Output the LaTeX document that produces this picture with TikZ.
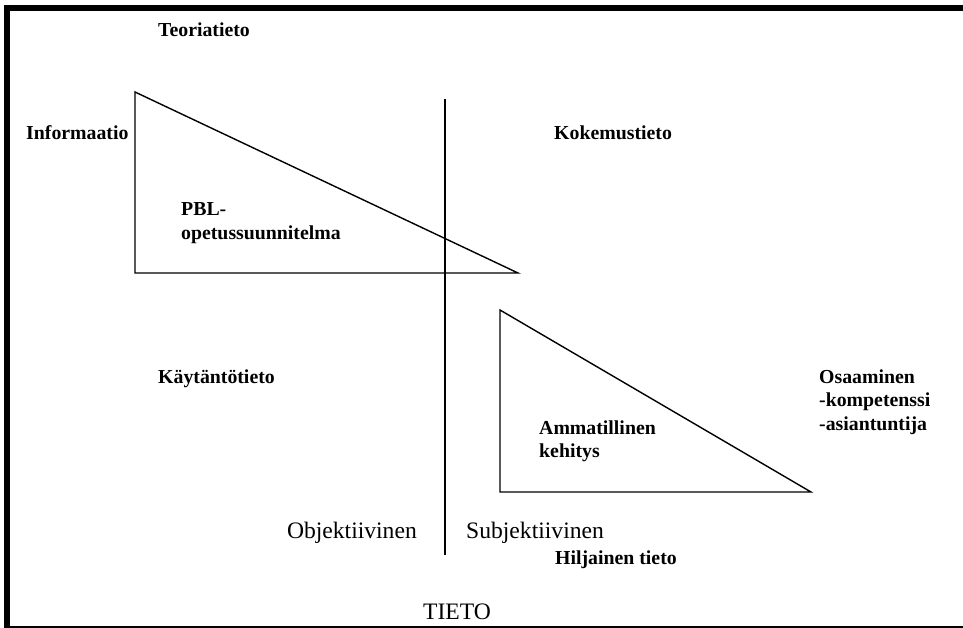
\documentclass[tikz,border=0pt]{standalone}
\usepackage{fontspec}
\setmainfont{Liberation Serif}
\newcommand{\blab}{\fontsize{19.8}{23.5}\selectfont\bfseries}
\newcommand{\rlab}{\fontsize{23.6}{28}\selectfont}
\begin{document}
\begin{tikzpicture}[x=1pt,y=-1pt,
  bl/.style={font=\blab,inner sep=0pt,anchor=base west},
  rl/.style={font=\rlab,inner sep=0pt,anchor=base west},
  tri/.style={draw=black,line width=1.4pt,line join=miter},
  frame/.style={draw=black,line width=6pt},
  axis/.style={draw=black,line width=1.4pt}]
\useasboundingbox (0,0) rectangle (963,628);
% frame
\coordinate (fbl) at (7,629);
\coordinate (ftl) at (7,8);
\coordinate (ftr) at (963,8);
\coordinate (fbr) at (963,629);
\draw[frame] (fbr) -- (fbl) -- (ftl) -- (ftr);
% vertical axis
\coordinate (vtop) at (445,99);
\coordinate (vbot) at (445,555);
\draw[axis] (vtop) -- (vbot);
% triangle 1
\coordinate (t1a) at (135,92);
\coordinate (t1b) at (135,273);
\coordinate (t1c) at (518,273);
\draw[tri] (t1a) -- (t1b) -- (t1c) -- cycle;
% triangle 2
\coordinate (t2a) at (500,310);
\coordinate (t2b) at (500,492);
\coordinate (t2c) at (811,492);
\draw[tri] (t2a) -- (t2b) -- (t2c) -- cycle;
% labels
\node[bl] (teoria) at (158,37) {Teoriatieto};
\node[bl] (info) at (26,140) {Informaatio};
\node[bl] (koke) at (554,140) {Kokemustieto};
\node[bl] (pbl) at (181,216) {\begin{tabular}[t]{@{}l@{}}PBL-\\opetussuunnitelma\end{tabular}};
\node[bl] (kayt) at (158,383) {Käytäntötieto};
\node[bl] (amm) at (539,434) {\begin{tabular}[t]{@{}l@{}}Ammatillinen\\kehitys\end{tabular}};
\node[bl] (osaa) at (819,383) {\begin{tabular}[t]{@{}l@{}}Osaaminen\\-kompetenssi\\-asiantuntija\end{tabular}};
\node[bl] (hilj) at (555,564) {Hiljainen tieto};
\node[rl,anchor=base east] (obj) at (417,538) {Objektiivinen};
\node[rl] (subj) at (466,538) {Subjektiivinen};
\node[rl] (tieto) at (423,619) {TIETO};
\end{tikzpicture}
\end{document}
